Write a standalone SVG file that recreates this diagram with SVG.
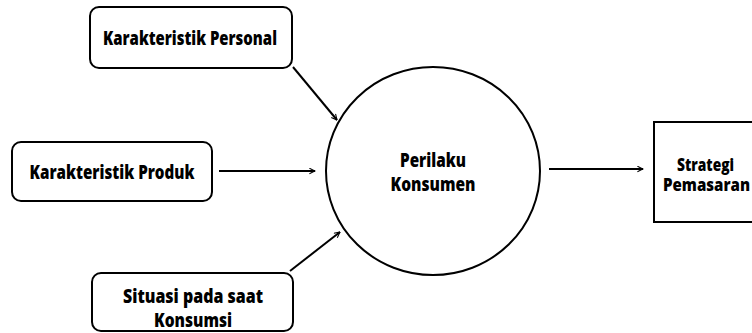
<svg xmlns="http://www.w3.org/2000/svg" width="752" height="333" viewBox="0 0 752 333">
<style>
.box{fill:#fff;stroke:#000;stroke-width:2}
.t{font-family:"Open Sans","Liberation Sans",sans-serif;font-weight:800;font-size:19px;fill:#000;text-anchor:middle}
.s{font-size:17px}
.c{stroke:#000;stroke-width:2;fill:none;marker-end:url(#ah)}
</style>
<defs>
<marker id="ah" viewBox="0 0 10 10" refX="9" refY="5" markerWidth="7" markerHeight="7" orient="auto" markerUnits="userSpaceOnUse">
<path d="M1,1 L9,5 L1,9" fill="none" stroke="#000" stroke-width="1.5"/>
</marker>
</defs>
<rect width="752" height="333" fill="#fff"/>
<g id="connectors">
<line class="c" x1="293" y1="67" x2="337" y2="120"/>
<line class="c" x1="219" y1="171" x2="315" y2="171"/>
<line class="c" x1="290" y1="271" x2="340" y2="232"/>
<line class="c" x1="549" y1="169" x2="643" y2="169"/>
</g>
<g id="personal">
<rect class="box" x="90" y="7" width="202" height="61" rx="9"/>
<text class="t" x="190" y="45" textLength="174" lengthAdjust="spacingAndGlyphs">Karakteristik Personal</text>
</g>
<g id="produk">
<rect class="box" x="12" y="142" width="200" height="59" rx="9"/>
<text class="t" x="112" y="179" textLength="165" lengthAdjust="spacingAndGlyphs">Karakteristik Produk</text>
</g>
<g id="situasi">
<rect class="box" x="92" y="273" width="201" height="58" rx="9"/>
<text class="t" x="193" y="303" textLength="140" lengthAdjust="spacingAndGlyphs">Situasi pada saat</text>
<text class="t" x="193" y="327" textLength="78" lengthAdjust="spacingAndGlyphs">Konsumsi</text>
</g>
<g id="perilaku">
<ellipse class="box" cx="433" cy="171" rx="107" ry="104"/>
<text class="t" x="433" y="167" textLength="66" lengthAdjust="spacingAndGlyphs">Perilaku</text>
<text class="t" x="433" y="191" textLength="85" lengthAdjust="spacingAndGlyphs">Konsumen</text>
</g>
<g id="strategi">
<rect class="box" x="654" y="122" width="110" height="100"/>
<text class="t s" x="705.5" y="171" textLength="57" lengthAdjust="spacingAndGlyphs">Strategi</text>
<text class="t s" x="706.5" y="191" textLength="87" lengthAdjust="spacingAndGlyphs">Pemasaran</text>
</g>
</svg>
